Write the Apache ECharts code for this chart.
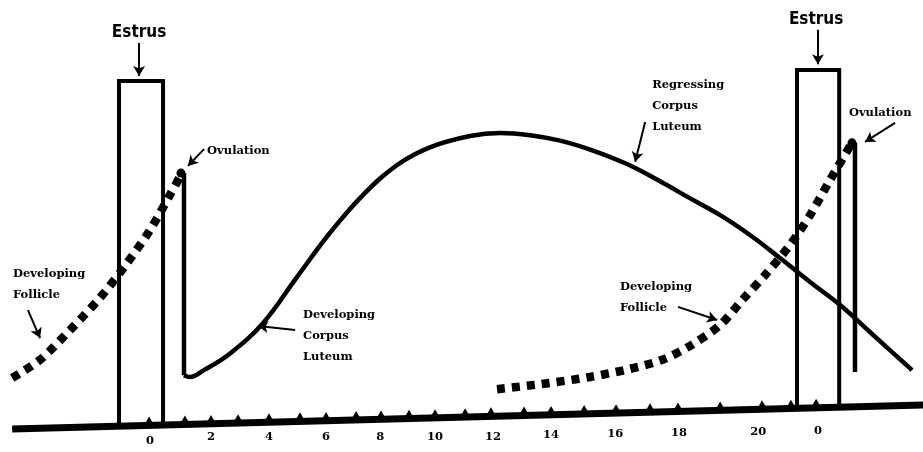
<!DOCTYPE html>
<html>
<head>
<meta charset="utf-8">
<script src="https://cdn.jsdelivr.net/npm/echarts@6/dist/echarts.min.js"></script>
<style>
  html, body { margin: 0; padding: 0; background: #fff; }
  #main { width: 923px; height: 452px; }
</style>
</head>
<body>
<div id="main"></div>
<script>
// x = day of the cycle (as drawn on the hand ruler), y = relative level 0-100
const dayLabels = ['0', '2', '4', '6', '8', '10', '12', '14', '16', '18', '20', '0'];
const dayLabelX = [-0.06, 1.95, 3.86, 5.74, 7.52, 9.33, 11.24, 13.15, 15.26, 17.36, 19.97, 21.94];
const dayLabelY = [2.4, 3.3, 3.3, 3.3, 3.3, 3.3, 3.3, 3.8, 4.0, 4.2, 4.4, 4.6];

const tickX = [-0.09, 1.09, 1.95, 2.84, 3.86, 4.88, 5.74, 6.73, 7.55, 8.47, 9.33, 10.32,
  11.17, 12.26, 13.15, 14.24, 15.29, 16.41, 17.33, 18.72, 20.10, 21.05, 21.88];
const tickY = [7.1, 7.3, 7.4, 7.6, 7.8, 8.0, 8.1, 8.3, 8.4, 8.6, 8.7, 8.9,
  9.1, 9.3, 9.4, 9.6, 9.8, 10.0, 10.2, 10.4, 10.7, 10.8, 11.0];

const baseline = [[-4.6, 5.1], [25.4, 10.4]];

// estrus boxes
const estrus1 = [[-1.08, 5.7], [-1.08, 82.1], [0.37, 82.1], [0.37, 5.7]];
const estrus2 = [[21.25, 9.7], [21.25, 84.5], [22.64, 84.5], [22.64, 9.7]];

// developing follicles (dotted)
const follicle1 = [[-4.60, 16.4], [-3.68, 20.4], [-2.69, 27.0], [-1.71, 34.1], [-0.88, 41.2],
  [-0.06, 49.1], [0.60, 56.9], [0.99, 61.7]];
const follicle2 = [[11.37, 13.9], [12.79, 15.0], [14.43, 16.6], [15.75, 18.4], [16.81, 20.4],
  [17.73, 23.5], [18.72, 28.1], [19.47, 33.8], [20.26, 39.6], [21.02, 45.8], [21.68, 52.4],
  [22.34, 60.2], [23.06, 68.4]];

// ovulation drops
const ovulation1 = [[1.06, 61.7], [1.06, 17.0]];
const ovulation2 = [[23.16, 68.4], [23.16, 17.7]];
const ovulationDots = [[0.96, 61.7], [23.06, 68.4]];

// corpus luteum
const corpusLuteum = [[1.06, 17.0], [1.26, 16.6], [1.69, 18.0], [2.58, 21.8], [3.66, 28.5],
  [4.78, 38.7], [5.87, 48.5], [6.96, 56.9], [8.08, 63.5], [9.16, 67.4], [10.48, 69.9],
  [11.47, 70.6], [12.46, 70.1], [13.45, 68.9], [14.53, 66.7], [15.65, 63.7], [16.74, 59.9],
  [17.63, 56.5], [18.72, 52.4], [19.70, 48.0], [20.69, 42.9], [21.68, 37.6], [22.67, 32.5],
  [23.66, 26.5], [25.04, 18.1]];

// notes
const estrusText = ['Estrus', 'Estrus'];
const estrusAt = [[-0.42, 92.7], [21.88, 95.6]];
const noteText = ['Ovulation', 'Ovulation', 'Developing\nFollicle', 'Developing\nCorpus\nLuteum',
  'Regressing\nCorpus\nLuteum', 'Developing\nFollicle'];
const noteAt = [[1.82, 66.6], [22.96, 75.0], [-4.57, 37.1], [4.98, 25.6], [16.48, 76.5], [15.42, 34.1]];
const arrows = [
  [[-0.42, 90.5], [-0.42, 83.2]],
  [[21.94, 93.4], [21.94, 85.8]],
  [[1.72, 67.0], [1.19, 63.3]],
  [[24.48, 72.8], [23.49, 68.6]],
  [[-4.08, 31.4], [-3.68, 25.2]],
  [[4.72, 27.0], [3.50, 27.9]],
  [[16.25, 73.0], [15.92, 64.2]],
  [[17.33, 32.1], [18.62, 29.2]]
];

const ink = '#000000';
const chart = echarts.init(document.getElementById('main'));

function solid(name, data, width, smooth) {
  return {
    name: name, type: 'line', data: data, symbol: 'none', smooth: smooth || false,
    lineStyle: { color: ink, width: width, join: 'miter', cap: 'butt' }, z: 3
  };
}
function dotted(name, data) {
  return {
    name: name, type: 'line', data: data, symbol: 'none', smooth: 0.3,
    lineStyle: { color: ink, width: 8.5, type: [8, 7], cap: 'butt' }, z: 2
  };
}
function texts(name, data, label) {
  return {
    name: name, type: 'scatter', symbolSize: 0, z: 6, data: data,
    itemStyle: { opacity: 1 }, label: Object.assign({ show: true, formatter: '{b}', color: ink }, label)
  };
}

const serif = '"DejaVu Serif", "Liberation Serif", serif';

const option = {
  animation: false,
  backgroundColor: '#ffffff',
  grid: { left: 0, right: 0, top: 0, bottom: 0 },
  xAxis: { type: 'value', min: -5, max: 25.4, show: false },
  yAxis: { type: 'value', min: 0, max: 100, show: false },
  series: [
    {
      name: 'baseline', type: 'line', data: baseline, symbol: 'none',
      lineStyle: { color: ink, width: 7, cap: 'butt' }, z: 4,
      markLine: {
        silent: true, symbol: ['none', 'arrow'], symbolSize: [9, 10],
        label: { show: false },
        lineStyle: { color: ink, width: 2, type: 'solid', opacity: 1 },
        data: arrows.map(a => [{ coord: a[0] }, { coord: a[1] }])
      }
    },
    {
      name: 'ticks', type: 'scatter', symbol: 'triangle', symbolSize: [8, 7],
      itemStyle: { color: ink, opacity: 1 }, data: tickX.map((x, i) => [x, tickY[i]]), z: 4
    },
    solid('estrus1', estrus1, 4),
    solid('estrus2', estrus2, 4),
    dotted('follicle1', follicle1),
    dotted('follicle2', follicle2),
    solid('ovulation1', ovulation1, 4.5),
    solid('ovulation2', ovulation2, 4.5),
    solid('corpusLuteum', corpusLuteum, 4.5, 0.4),
    {
      name: 'ovulationDots', type: 'scatter', symbol: 'circle', symbolSize: 9,
      itemStyle: { color: ink, opacity: 1 }, data: ovulationDots, z: 5
    },
    texts('estrusText', estrusAt.map((p, i) => ({ value: p, name: estrusText[i] })), {
      position: 'inside',
      fontFamily: '"Liberation Sans Narrow", "DejaVu Sans Condensed", Arial, sans-serif',
      fontWeight: 'bold', fontSize: 17
    }),
    texts('notes', noteAt.map((p, i) => ({ value: p, name: noteText[i] })), {
      position: 'right', distance: 0, align: 'left',
      fontFamily: serif, fontWeight: 'bold', fontSize: 11.5, lineHeight: 21
    }),
    texts('days', dayLabelX.map((x, i) => ({ value: [x, dayLabelY[i]], name: dayLabels[i] })), {
      position: 'inside', fontFamily: serif, fontWeight: 'bold', fontSize: 11.5
    })
  ]
};
chart.setOption(option);
</script>
</body>
</html>
